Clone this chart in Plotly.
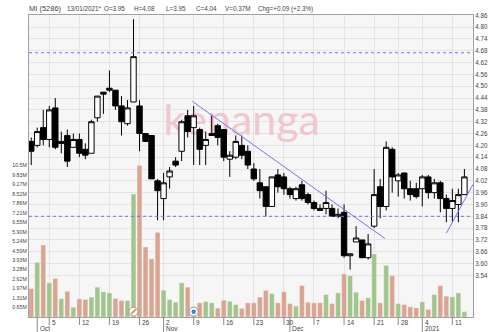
import plotly.graph_objects as go

DATES = ["2020-09-30","2020-10-01","2020-10-02","2020-10-05","2020-10-06","2020-10-07","2020-10-08","2020-10-09",
         "2020-10-12","2020-10-13","2020-10-14","2020-10-15","2020-10-16","2020-10-19","2020-10-20","2020-10-21",
         "2020-10-22","2020-10-23","2020-10-26","2020-10-27","2020-10-28","2020-10-30","2020-11-02","2020-11-03",
         "2020-11-04","2020-11-05","2020-11-06","2020-11-09","2020-11-10","2020-11-11","2020-11-12","2020-11-13",
         "2020-11-16","2020-11-17","2020-11-18","2020-11-19","2020-11-20","2020-11-23","2020-11-24","2020-11-25",
         "2020-11-26","2020-11-27","2020-11-30","2020-12-01","2020-12-02","2020-12-03","2020-12-04","2020-12-07",
         "2020-12-08","2020-12-09","2020-12-10","2020-12-11","2020-12-14","2020-12-15","2020-12-16","2020-12-17",
         "2020-12-18","2020-12-21","2020-12-22","2020-12-23","2020-12-24","2020-12-28","2020-12-29","2020-12-30",
         "2020-12-31","2021-01-04","2021-01-05","2021-01-06","2021-01-07","2021-01-08","2021-01-11","2021-01-12",
         "2021-01-13"]

OPEN = [4.22,4.20,4.29,4.23,4.39,4.22,4.25,4.19,4.23,4.18,4.16,4.34,4.47,4.49,4.48,4.40,4.31,4.42,4.40,4.26,
        4.25,4.02,3.93,4.04,4.12,4.17,4.35,4.29,4.28,4.20,4.26,4.30,4.28,4.13,4.14,4.20,4.17,4.08,4.01,3.99,
        3.89,4.05,4.04,3.98,3.93,4.00,3.95,3.91,3.88,3.88,3.88,3.84,3.86,3.64,3.71,3.72,3.63,3.79,3.99,3.89,
        4.18,4.02,4.06,3.98,3.98,3.98,4.04,3.96,4.01,3.93,3.88,3.90,3.95]
HIGH = [4.24,4.29,4.38,4.40,4.44,4.27,4.28,4.26,4.26,4.21,4.33,4.45,4.47,4.58,4.48,4.45,4.43,4.84,4.43,4.26,
        4.25,4.03,4.06,4.09,4.14,4.33,4.38,4.40,4.29,4.27,4.35,4.31,4.28,4.17,4.25,4.25,4.20,4.11,4.08,3.99,
        4.04,4.08,4.06,3.99,3.99,4.02,3.96,3.92,3.90,3.97,3.90,3.88,3.90,3.65,3.79,3.72,3.75,4.08,4.03,4.22,
        4.19,4.06,4.06,4.02,4.01,4.05,4.05,4.03,4.02,3.95,3.98,3.98,4.08]
LOW = [4.10,4.19,4.20,4.19,4.18,4.16,4.09,4.19,4.14,4.13,4.16,4.32,4.36,4.47,4.38,4.25,4.30,4.42,4.17,4.22,
       4.03,3.82,3.82,3.98,4.09,4.12,4.24,4.10,4.10,4.10,4.25,4.20,4.12,4.04,4.13,4.13,4.08,4.02,3.93,3.84,
       3.89,3.96,3.95,3.93,3.92,3.92,3.90,3.87,3.87,3.85,3.84,3.83,3.63,3.57,3.71,3.63,3.62,3.78,3.83,3.87,
       3.96,3.94,3.93,3.92,3.93,3.89,3.93,3.93,3.86,3.81,3.81,3.81,3.95]
CLOSE = [4.17,4.27,4.23,4.38,4.19,4.21,4.12,4.23,4.16,4.15,4.32,4.45,4.46,4.48,4.40,4.32,4.39,4.65,4.26,4.22,
         4.03,3.97,4.01,4.07,4.10,4.32,4.27,4.35,4.18,4.23,4.25,4.24,4.14,4.15,4.22,4.15,4.10,4.03,3.97,3.89,
         4.04,3.99,3.98,3.95,3.98,3.93,3.91,3.88,3.87,3.91,3.84,3.85,3.64,3.65,3.73,3.63,3.70,3.95,3.89,4.19,
         4.04,4.05,3.98,3.95,3.94,4.04,3.96,4.01,3.93,3.88,3.92,3.95,4.04]
VOLUME_M = [1.97,3.78,4.98,2.36,2.66,1.26,1.78,0.68,1.26,1.21,1.37,2.06,1.74,1.67,1.28,1.14,1.14,8.50,10.48,4.84,
            4.02,5.85,1.85,1.21,1.02,2.36,2.06,0.70,0.98,1.07,0.98,0.61,1.16,1.09,0.86,0.59,0.98,0.98,1.37,1.83,
            1.62,0.98,1.74,0.93,0.75,2.17,1.02,0.98,0.98,1.55,0.93,1.67,2.98,2.86,1.71,1.14,1.32,4.36,0.98,3.57,
            2.86,0.93,0.86,0.70,0.63,1.05,0.52,1.55,2.17,1.44,1.39,1.67,0.37]

PRICE_TICKS = [3.54,3.60,3.66,3.72,3.78,3.84,3.90,3.96,4.02,4.08,4.14,4.20,4.26,4.32,4.38,4.44,4.50,4.56,
               4.62,4.68,4.74,4.80,4.86]
VOL_TICKS = [0.655,1.31,1.965,2.62,3.275,3.93,4.585,5.24,5.895,6.55,7.205,7.86,8.515,9.17,9.825,10.48]
VOL_TICK_TEXT = ["0.65M","1.31M","1.97M","2.62M","3.28M","3.93M","4.59M","5.24M","5.90M","6.55M","7.21M",
                 "7.86M","8.52M","9.17M","9.83M","10.5M"]

DAY_TICKS = [("2020-10-05","5"),("2020-10-12","12"),("2020-10-19","19"),("2020-10-26","26"),("2020-11-02","2"),
             ("2020-11-09","9"),("2020-11-16","16"),("2020-11-23","23"),("2020-11-30","30"),("2020-12-07","7"),
             ("2020-12-14","14"),("2020-12-21","21"),("2020-12-28","28"),("2021-01-04","4"),("2021-01-11","11")]
MONTH_TICKS = [("2020-10-01","Oct"),("2020-11-02","Nov"),("2020-12-01","Dec"),("2021-01-04","2021")]

LEVEL_LINES = [4.67, 3.84]
TREND_LINES = [(26.8, 4.423, 58.8, 3.727), (69.0, 3.754, 73.43, 4.002)]
EVENTS = [("2020-10-23", "orange"), ("2020-11-09", "blue")]

HEADER = [("MI (5286)", 19, 7.5), ("13/01/2021*", 59, 6.3), ("O=3.95", 97, 6.3), ("H=4.08", 128, 6.3),
          ("L=3.95", 162, 6.3), ("C=4.04", 193, 6.3), ("V=0.37M", 223, 6.3), ("Chg=+0.09 (+2.3%)", 257, 6.3)]

GREEN = "#a2c58e"
PINK = "#d9a592"
TXT = "#444444"
FONT = "Liberation Sans, Arial, sans-serif"

vol_colors = [PINK] + [GREEN if CLOSE[i] >= CLOSE[i - 1] else PINK for i in range(1, len(CLOSE))]

fig = go.Figure()

# watermark (under candles)
fig.add_trace(go.Scatter(x=[DATES[35]], y=[13.3], mode="text", text=["kenanga"],
                         textfont=dict(size=43, color="#f1c6cd", family="Lato, Open Sans, sans-serif"),
                         xaxis="x", yaxis="y", hoverinfo="skip", showlegend=False, cliponaxis=False))

fig.add_trace(go.Bar(x=DATES, y=VOLUME_M, marker=dict(color=vol_colors, line=dict(color="rgba(255,255,255,0.6)", width=0.5)),
                     xaxis="x", yaxis="y", hoverinfo="skip", showlegend=False))

fig.add_trace(go.Candlestick(x=DATES, open=OPEN, high=HIGH, low=LOW, close=CLOSE,
                             increasing=dict(line=dict(color="black", width=1), fillcolor="white"),
                             decreasing=dict(line=dict(color="black", width=1), fillcolor="black"),
                             whiskerwidth=0, xaxis="x", yaxis="y2", hoverinfo="skip", showlegend=False))

# event markers near bottom
ev_x = [d for d, _ in EVENTS]
fig.add_trace(go.Scatter(x=ev_x, y=[0.37] * len(ev_x), mode="markers",
                         marker=dict(size=9, color="white", line=dict(color="#9a9a9a", width=1)),
                         xaxis="x", yaxis="y", cliponaxis=False, hoverinfo="skip", showlegend=False))
fig.add_trace(go.Scatter(x=[EVENTS[0][0]], y=[0.37], mode="markers",
                         marker=dict(size=5, symbol="line-ne", line=dict(color="#f08a1c", width=1.6)),
                         xaxis="x", yaxis="y", cliponaxis=False, hoverinfo="skip", showlegend=False))
fig.add_trace(go.Scatter(x=[EVENTS[1][0]], y=[0.37], mode="markers",
                         marker=dict(size=4.5, color="#2f86e0"),
                         xaxis="x", yaxis="y", cliponaxis=False, hoverinfo="skip", showlegend=False))

shapes = []
for lv in LEVEL_LINES:
    shapes.append(dict(type="line", xref="paper", x0=0, x1=1, yref="y2", y0=lv, y1=lv,
                       line=dict(color="#6f6fff", width=1, dash="dot"), layer="above"))
for x0, y0, x1, y1 in TREND_LINES:
    shapes.append(dict(type="line", xref="x", yref="y2", x0=x0, y0=y0, x1=x1, y1=y1,
                       line=dict(color="#7474f4", width=1), layer="above"))

PLOT_H = 303.0
short_y = -8 / PLOT_H
long_y = -15 / PLOT_H
annotations = []
month_dates = [d for d, _ in MONTH_TICKS]
for d, t in DAY_TICKS:
    y1 = long_y if d in month_dates else short_y
    shapes.append(dict(type="line", xref="x", yref="paper", x0=d, x1=d, y0=0, y1=y1,
                       line=dict(color="#888888", width=1)))
    annotations.append(dict(x=d, y=-5.5 / PLOT_H, xref="x", yref="paper", text=t, showarrow=False,
                            xanchor="left", yanchor="middle", xshift=0.5,
                            font=dict(size=6.5, color=TXT, family=FONT)))
for d, t in MONTH_TICKS:
    if d not in [dd for dd, _ in DAY_TICKS]:
        shapes.append(dict(type="line", xref="x", yref="paper", x0=d, x1=d, y0=0, y1=long_y,
                           line=dict(color="#888888", width=1)))
    annotations.append(dict(x=d, y=-12 / PLOT_H, xref="x", yref="paper", text=t, showarrow=False,
                            xanchor="left", yanchor="middle", xshift=0.5,
                            font=dict(size=6.5, color=TXT, family=FONT)))

for text, px, fs in HEADER:
    annotations.append(dict(x=(px - 19) / 462.0, y=(317 - 7.5) / PLOT_H, xref="paper", yref="paper",
                            text=text, showarrow=False, xanchor="left", yanchor="middle", xshift=-2,
                            font=dict(size=fs, color=TXT, family=FONT)))

fig.update_layout(
    width=500, height=332,
    margin=dict(l=19, r=19, t=14, b=15),
    paper_bgcolor="white", plot_bgcolor="#f6f6f6",
    showlegend=False, boxgap=0.1, boxgroupgap=0, bargap=0.2,
    font=dict(family=FONT, color=TXT),
    xaxis=dict(type="category", categoryorder="array", categoryarray=DATES, range=[-0.37, 73.43],
               tickvals=[d for d, _ in DAY_TICKS], showticklabels=False, ticks="",
               showgrid=True, gridcolor="#e4e4e4", gridwidth=1,
               showline=True, linecolor="#a0a0a0", linewidth=1, mirror=True,
               rangeslider=dict(visible=False), fixedrange=True),
    yaxis=dict(range=[0, 20.88], tickvals=VOL_TICKS, ticktext=VOL_TICK_TEXT, showgrid=False, zeroline=False,
               side="left", ticks="", tickfont=dict(size=5.3, color=TXT, family=FONT),
               showline=True, linecolor="#a0a0a0", linewidth=1, fixedrange=True),
    yaxis2=dict(range=[3.3291, 4.8615], overlaying="y", side="right", tickvals=PRICE_TICKS,
                ticktext=["%.2f" % v for v in PRICE_TICKS], showgrid=True, gridcolor="#e4e4e4",
                zeroline=False, ticks="", tickfont=dict(size=6.3, color=TXT, family=FONT),
                showline=True, linecolor="#a0a0a0", linewidth=1, fixedrange=True),
    shapes=shapes, annotations=annotations,
)

fig.write_html("out.html")
